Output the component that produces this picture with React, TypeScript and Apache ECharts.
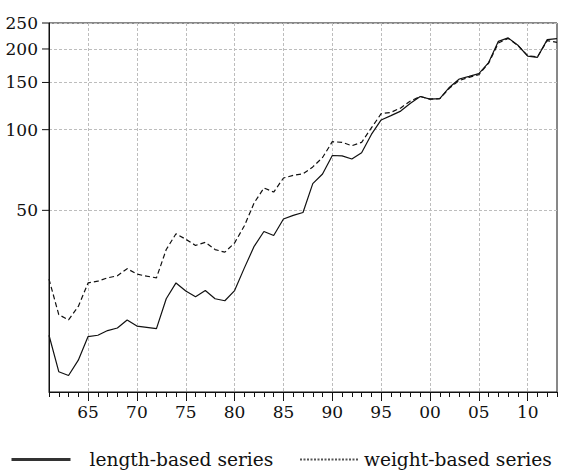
import React, { useEffect, useRef } from "react";
import * as echarts from "echarts";

const years: string[] = [];
for (let y = 1961; y <= 2013; y++) years.push(String(y));

const lengthBased = [
  17.1, 12.5, 12.1, 13.8, 16.9, 17.1, 17.8, 18.2, 19.5, 18.5,
  18.3, 18.1, 23.4, 26.8, 25.0, 23.8, 25.1, 23.4, 23.0, 25.1,
  30.5, 36.7, 41.7, 40.3, 46.4, 47.9, 49.1, 62.9, 68.3, 80.1,
  79.8, 77.7, 82.0, 96.0, 108.7, 112.8, 117.3, 125.5, 133.0, 130.0,
  130.5, 144.0, 154.5, 158.0, 161.8, 178.0, 213.6, 220.0, 206.5, 188.2,
  186.2, 216.7, 218.6,
];

const weightBased = [
  27.7, 20.4, 19.5, 21.9, 26.8, 27.2, 28.0, 28.5, 30.3, 28.9,
  28.4, 28.0, 35.7, 40.9, 39.0, 37.0, 38.0, 35.7, 34.9, 37.8,
  43.8, 53.3, 60.6, 58.5, 66.0, 67.5, 68.4, 72.6, 78.7, 90.2,
  89.7, 87.1, 89.7, 101.5, 114.7, 116.0, 120.5, 127.9, 133.0, 130.0,
  130.5, 143.0, 152.6, 156.8, 160.3, 177.0, 210.5, 219.0, 206.0, 188.8,
  187.0, 215.0, 211.8,
];

const yTickValues = [50, 100, 150, 200, 250];
const majorStep = 5;
const seriesNames = ["length-based series", "weight-based series"];

const FONT = "DejaVu Serif";
const INK = "#111";

export default function App() {
  const ref = useRef<HTMLDivElement>(null);
  useEffect(() => {
    if (!ref.current) return;
    const chart = echarts.init(ref.current, undefined, { renderer: "svg" });
    const toLog = (v: number) => Math.log10(v);
    const yMin = toLog(10.5);
    const yMax = toLog(250);
    const yCustom = yTickValues.map(toLog);
    const gridStyle = { color: "#bdbdbd", type: [3, 2] as any, width: 1 };
    const isMajor = (_i: number, v: string) => Number(v) % majorStep === 0;
    chart.setOption({
      animation: false,
      backgroundColor: "#fff",
      textStyle: { fontFamily: FONT },
      grid: {
        left: 49,
        right: 4,
        top: 23,
        bottom: 82,
        containLabel: false,
        outerBoundsMode: "none",
        show: true,
        borderColor: INK,
        borderWidth: 1,
        backgroundColor: "transparent",
      },
      xAxis: [
        {
          type: "category",
          data: years,
          boundaryGap: false,
          position: "bottom",
          axisLine: { show: true, onZero: false, lineStyle: { color: INK, width: 1 } },
          axisTick: {
            show: true,
            inside: false,
            interval: isMajor,
            length: 9,
            lineStyle: { color: INK, width: 1 },
          },
          axisLabel: {
            show: true,
            interval: isMajor,
            formatter: (v: string) => v.slice(2),
            fontFamily: FONT,
            fontSize: 17,
            color: INK,
            margin: 11,
          },
          splitLine: { show: true, interval: isMajor, lineStyle: gridStyle },
        },
        {
          type: "category",
          data: years,
          boundaryGap: false,
          position: "bottom",
          axisLine: { show: false },
          axisTick: {
            show: true,
            inside: false,
            interval: 0,
            length: 5,
            lineStyle: { color: INK, width: 1 },
          },
          axisLabel: { show: false },
          splitLine: { show: false },
        },
      ],
      yAxis: {
        type: "value",
        min: yMin,
        max: yMax,
        axisLine: { show: true, onZero: false, lineStyle: { color: INK, width: 1 } },
        axisTick: { show: false, customValues: yCustom },
        axisLabel: {
          show: true,
          customValues: yCustom,
          formatter: (v: number) => "{v|" + Math.round(Math.pow(10, v)) + "}{t|}",
          fontFamily: FONT,
          fontSize: 17,
          color: INK,
          margin: 0,
          rich: {
            v: { fontFamily: FONT, fontSize: 17, color: INK, padding: [0, 4, 0, 0] },
            t: { width: 7, height: 1, backgroundColor: INK },
          },
        },
        splitLine: { show: true, lineStyle: gridStyle },
      },
      legend: [
        {
          data: [
            {
              name: seriesNames[0],
              lineStyle: { color: "#333", width: 3, type: "solid" },
              itemStyle: { color: "transparent", borderWidth: 0, opacity: 0 },
            },
          ],
          left: 10,
          top: 450,
          padding: 0,
          itemWidth: 59,
          itemHeight: 20,
          textStyle: { fontFamily: FONT, fontSize: 18.6, color: INK, padding: [0, 0, 0, 14] },
        },
        {
          data: [
            {
              name: seriesNames[1],
              lineStyle: { color: "#555", width: 2, type: [2, 1.5] },
              itemStyle: { color: "transparent", borderWidth: 0, opacity: 0 },
            },
          ],
          left: 299,
          top: 450,
          padding: 0,
          itemWidth: 59,
          itemHeight: 20,
          textStyle: { fontFamily: FONT, fontSize: 18.6, color: INK },
        },
      ],
      series: [
        {
          name: seriesNames[0],
          type: "line",
          symbol: "none",
          data: lengthBased.map(toLog),
          lineStyle: { color: INK, width: 1.2, type: "solid" },
          itemStyle: { color: INK },
        },
        {
          name: seriesNames[1],
          type: "line",
          symbol: "none",
          data: weightBased.map(toLog),
          lineStyle: { color: INK, width: 1.2, type: [5, 3] },
          itemStyle: { color: INK },
        },
      ],
    });
    return () => chart.dispose();
  }, []);
  return (
    <div
      ref={ref}
      style={{ position: "fixed", left: 0, top: 0, width: 561, height: 474, background: "#fff" }}
    />
  );
}
